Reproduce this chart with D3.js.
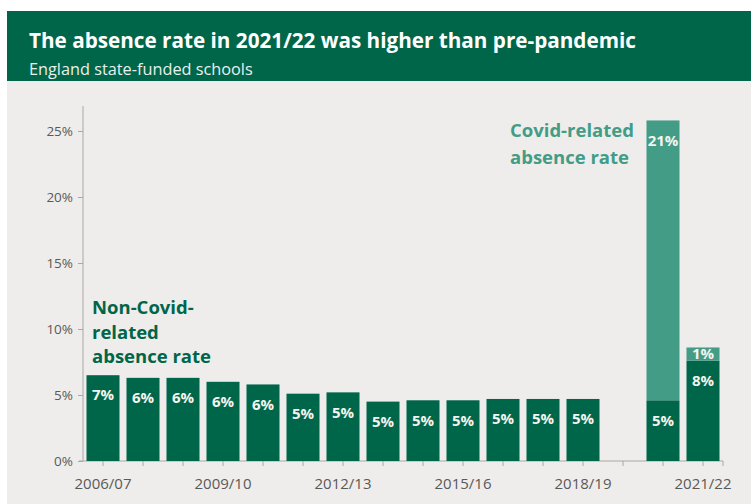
<!DOCTYPE html>
<html>
<head>
<meta charset="utf-8">
<script src="https://cdn.jsdelivr.net/npm/d3@7"></script>
<style>
  body { margin: 0; background: #fff; }
  svg { display: block; }
</style>
</head>
<body>
<div id="chart"></div>
<script>
// academic years on the x axis
var years = ["2006/07", "2007/08", "2008/09", "2009/10", "2010/11", "2011/12", "2012/13", "2013/14",
             "2014/15", "2015/16", "2016/17", "2017/18", "2018/19", "2019/20", "2020/21", "2021/22"];
// absence rate, % (2019/20 not collected)
var nonCovid = [6.5, 6.3, 6.3, 6.0, 5.8, 5.1, 5.2, 4.5, 4.6, 4.6, 4.7, 4.7, 4.7, null, 4.6, 7.6];
var covid    = [0, 0, 0, 0, 0, 0, 0, 0, 0, 0, 0, 0, 0, null, 21.2, 1.0];
var yTicks = [0, 5, 10, 15, 20, 25];
var xLabelYears = ["2006/07", "2009/10", "2012/13", "2015/16", "2018/19", "2021/22"];

var width = 751, height = 504;
var darkGreen = '#00664a', teal = '#429c86', bg = '#efedeb', axisGrey = '#a8a8a8', textGrey = '#595959';
var font = '"Open Sans", sans-serif';

var svg = d3.select('#chart').append('svg')
    .attr('width', width)
    .attr('height', height);

// panel + header
svg.append('rect').attr('x', 7).attr('y', 81).attr('width', width - 7).attr('height', height - 81).attr('fill', bg);
svg.append('rect').attr('x', 7).attr('y', 11).attr('width', width - 7).attr('height', 70).attr('fill', darkGreen);

function fitText(sel, target) {
    var size = parseFloat(sel.attr('font-size'));
    var w = sel.node().getComputedTextLength();
    sel.attr('font-size', (size * target / w).toFixed(2));
}

var title = svg.append('text')
    .attr('x', 29).attr('y', 48)
    .attr('fill', '#fff')
    .attr('font-family', font)
    .attr('font-weight', 700)
    .attr('font-size', 20)
    .text('The absence rate in 2021/22 was higher than pre-pandemic');
fitText(title, 607);

var subtitle = svg.append('text')
    .attr('x', 29).attr('y', 75)
    .attr('fill', '#e8f0ec')
    .attr('font-family', font)
    .attr('font-size', 14)
    .text('England state-funded schools');
fitText(subtitle, 224);

// scales
var x = d3.scaleBand()
    .domain(years)
    .range([83, 723])
    .paddingInner(0.175)
    .paddingOuter(0.0875);

var y = d3.scaleLinear()
    .domain([0, 25])
    .range([461, 131]);

// y axis
var yAxis = svg.append('g')
    .attr('transform', 'translate(83,0)')
    .call(d3.axisLeft(y).tickValues(yTicks).tickSize(5).tickPadding(5)
        .tickFormat(function (d) { return d + '%'; }));
yAxis.select('.domain').remove();
yAxis.append('line').attr('x1', 0).attr('x2', 0).attr('y1', 106).attr('y2', 461).attr('stroke', axisGrey);
yAxis.selectAll('.tick line').attr('stroke', axisGrey);
yAxis.selectAll('.tick text')
    .attr('fill', textGrey)
    .attr('font-family', font)
    .attr('font-size', 13.5);

// x axis
var xAxis = svg.append('g')
    .attr('transform', 'translate(0,461)')
    .call(d3.axisBottom(x).tickSize(5).tickSizeOuter(0).tickPadding(12)
        .tickFormat(function (d) { return xLabelYears.indexOf(d) >= 0 ? d : ''; }));
xAxis.select('.domain').attr('stroke', axisGrey).attr('d', 'M79,0H723v5');
xAxis.selectAll('.tick line').attr('stroke', axisGrey);
xAxis.selectAll('.tick text')
    .attr('fill', textGrey)
    .attr('font-family', font)
    .attr('font-size', 15);

var pct = function (v) { return Math.round(v) + '%'; };
var rows = years.map(function (d, i) { return { year: d, base: nonCovid[i], covid: covid[i] }; })
    .filter(function (d) { return d.base != null; });

// non-covid bars
svg.append('g').selectAll('rect')
    .data(rows)
    .join('rect')
    .attr('x', function (d) { return x(d.year); })
    .attr('width', x.bandwidth())
    .attr('y', function (d) { return y(d.base); })
    .attr('height', function (d) { return y(0) - y(d.base); })
    .attr('fill', darkGreen);

// covid bars stacked on top
svg.append('g').selectAll('rect')
    .data(rows.filter(function (d) { return d.covid > 0; }))
    .join('rect')
    .attr('x', function (d) { return x(d.year); })
    .attr('width', x.bandwidth())
    .attr('y', function (d) { return y(d.base + d.covid); })
    .attr('height', function (d) { return y(d.base) - y(d.base + d.covid); })
    .attr('fill', teal);

var labelStyle = function (sel) {
    sel.attr('text-anchor', 'middle')
        .attr('dy', '0.35em')
        .attr('fill', '#f4f4ee')
        .attr('font-family', font)
        .attr('font-weight', 700)
        .attr('font-size', 15);
};

svg.append('g').selectAll('text')
    .data(rows)
    .join('text')
    .attr('x', function (d) { return x(d.year) + x.bandwidth() / 2; })
    .attr('y', function (d) { return y(d.base) + 20; })
    .text(function (d) { return pct(d.base); })
    .call(labelStyle);

svg.append('g').selectAll('text')
    .data(rows.filter(function (d) { return d.covid > 0; }))
    .join('text')
    .attr('x', function (d) { return x(d.year) + x.bandwidth() / 2; })
    .attr('y', function (d) {
        var top = y(d.base + d.covid), bottom = y(d.base);
        return bottom - top < 30 ? (top + bottom) / 2 : top + 20;
    })
    .text(function (d) { return pct(d.covid); })
    .call(labelStyle);

// annotations
function annotate(lines, x0, y0, lh, color) {
    var t = svg.append('text')
        .attr('fill', color)
        .attr('font-family', font)
        .attr('font-weight', 700)
        .attr('font-size', 18.5);
    t.selectAll('tspan')
        .data(lines)
        .join('tspan')
        .attr('x', x0)
        .attr('y', function (d, i) { return y0 + i * lh; })
        .text(function (d) { return d; });
}
annotate(['Non-Covid-', 'related', 'absence rate'], 92, 314, 24.5, darkGreen);
annotate(['Covid-related', 'absence rate'], 510, 137, 26.5, teal);
</script>
</body>
</html>
